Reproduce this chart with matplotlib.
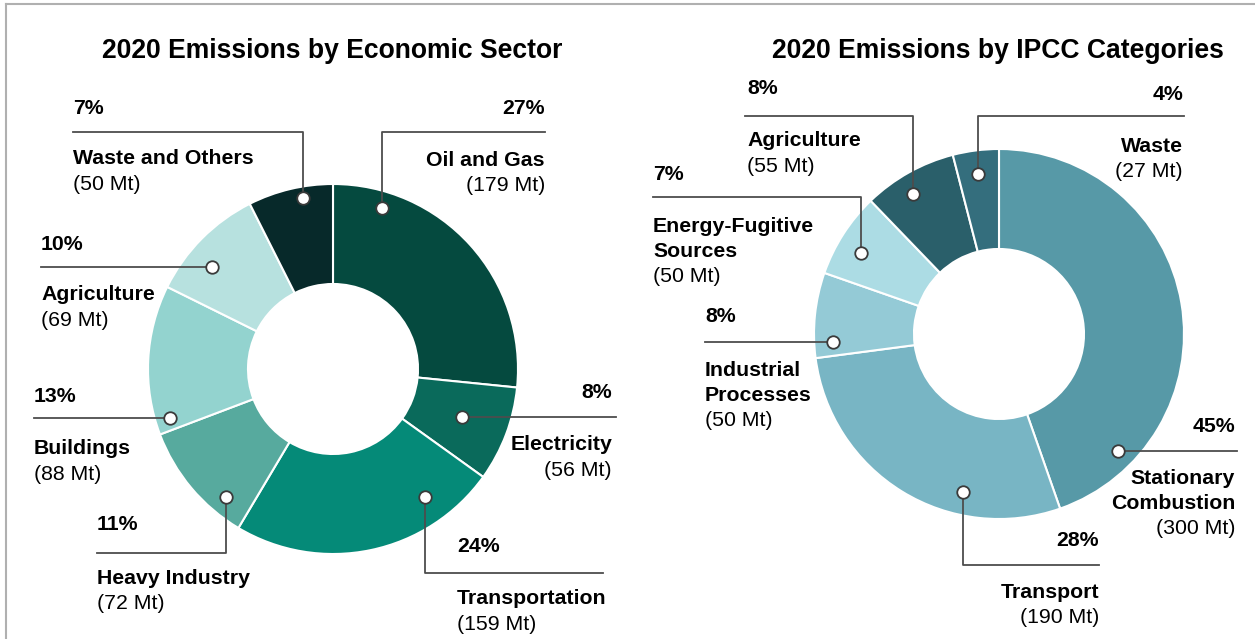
import matplotlib.pyplot as plt

plt.rcParams['font.family'] = ['Liberation Sans', 'DejaVu Sans']

W, H = 1255, 639

# 2020 emissions by economic sector (Mt), clockwise from 12 o'clock
sector_names = ["Oil and Gas", "Electricity", "Transportation", "Heavy Industry",
                "Buildings", "Agriculture", "Waste and Others"]
sector_mt = [179, 56, 159, 72, 88, 69, 50]
sector_pct = [27, 8, 24, 11, 13, 10, 7]
sector_colors = ["#054a3f", "#0a6a5b", "#058a78", "#57aa9e",
                 "#93d3cf", "#b7e1df", "#07292a"]

# 2020 emissions by IPCC category (Mt)
ipcc_names = ["Stationary\nCombustion", "Transport", "Industrial\nProcesses",
              "Energy-Fugitive\nSources", "Agriculture", "Waste"]
ipcc_mt = [300, 190, 50, 50, 55, 27]
ipcc_pct = [45, 28, 8, 7, 8, 4]
ipcc_colors = ["#5799a7", "#78b5c4", "#94cad6", "#acdce4", "#2a5f6a", "#346e7d"]

# label layout in pixels: pin (x, y), leader y, leader end x, text x, align, pct y, name y
sector_layout = [
    ((382, 208), 132, 545, 545, 'right', 108, 160),
    ((462, 417), 417, 616, 612, 'right', 393, 445),
    ((425, 497), 573, 603, 457, 'left', 546, 599),
    ((226, 497), 553, 97, 97, 'left', 525, 578),
    ((170, 418), 418, 34, 34, 'left', 396, 449),
    ((212, 267), 267, 41, 41, 'left', 244, 295),
    ((303, 198), 132, 73, 73, 'left', 108, 159),
]
ipcc_layout = [
    ((1118, 451), 451, 1237, 1235, 'right', 427, 478),
    ((963, 492), 565, 1099, 1099, 'right', 540, 592),
    ((833, 342), 342, 705, 705, 'left', 317, 370),
    ((861, 253), 197, 653, 653, 'left', 175, 226),
    ((913, 194), 116, 745, 747, 'left', 89, 141),
    ((978, 174), 116, 1184, 1183, 'right', 94, 146),
]

fig = plt.figure(figsize=(W / 100, H / 100), dpi=100)
ax = fig.add_axes([0, 0, 1, 1])


def donut(center, values, colors):
    # y axis is flipped, so startangle=-90 / counterclock=True runs clockwise from the top
    ax.pie(values, colors=colors, center=center, radius=185, startangle=-90,
           counterclock=True, frame=True,
           wedgeprops=dict(width=100, edgecolor='white', linewidth=1.5))


def labels(names, mt, pct, layout):
    for name, v, p, (pin, ly, ex, tx, ha, py, ny) in zip(names, mt, pct, layout):
        px, pyy = pin
        if ly == pyy:
            ax.plot([px, ex], [ly, ly], color='#4d4d4d', lw=1.3, zorder=3)
        else:
            ax.plot([px, px, ex], [pyy, ly, ly], color='#4d4d4d', lw=1.3, zorder=3)
        ax.plot(px, pyy, 'o', ms=9, mfc='white', mec='#3a3a3a', mew=1.3, zorder=4)
        ax.text(tx, py, f"{p}%", ha=ha, va='center', fontsize=15.3, fontweight='bold')
        lines = name.split('\n')
        for i, ln in enumerate(lines):
            ax.text(tx, ny + 25.5 * i, ln, ha=ha, va='center', fontsize=15.3,
                    fontweight='bold')
        ax.text(tx, ny + 25.5 * len(lines), f"({v} Mt)", ha=ha, va='center',
                fontsize=15.3)


donut((333, 369), sector_mt, sector_colors)
donut((999, 334), ipcc_mt, ipcc_colors)
labels(sector_names, sector_mt, sector_pct, sector_layout)
labels(ipcc_names, ipcc_mt, ipcc_pct, ipcc_layout)

ax.text(332, 51, "2020 Emissions by Economic Sector", ha='center', va='center',
        fontsize=19.1, fontweight='bold')
ax.text(998, 51, "2020 Emissions by IPCC Categories", ha='center', va='center',
        fontsize=19.1, fontweight='bold')

# thin frame along the top and left edges
ax.plot([6, W], [4, 4], color='#b0b0b0', lw=1.5)
ax.plot([6, 6], [4, H], color='#b0b0b0', lw=1.5)

ax.set_xlim(0, W)
ax.set_ylim(H, 0)
ax.set_aspect('equal')
ax.axis('off')

fig.savefig('out.png', dpi=100)
